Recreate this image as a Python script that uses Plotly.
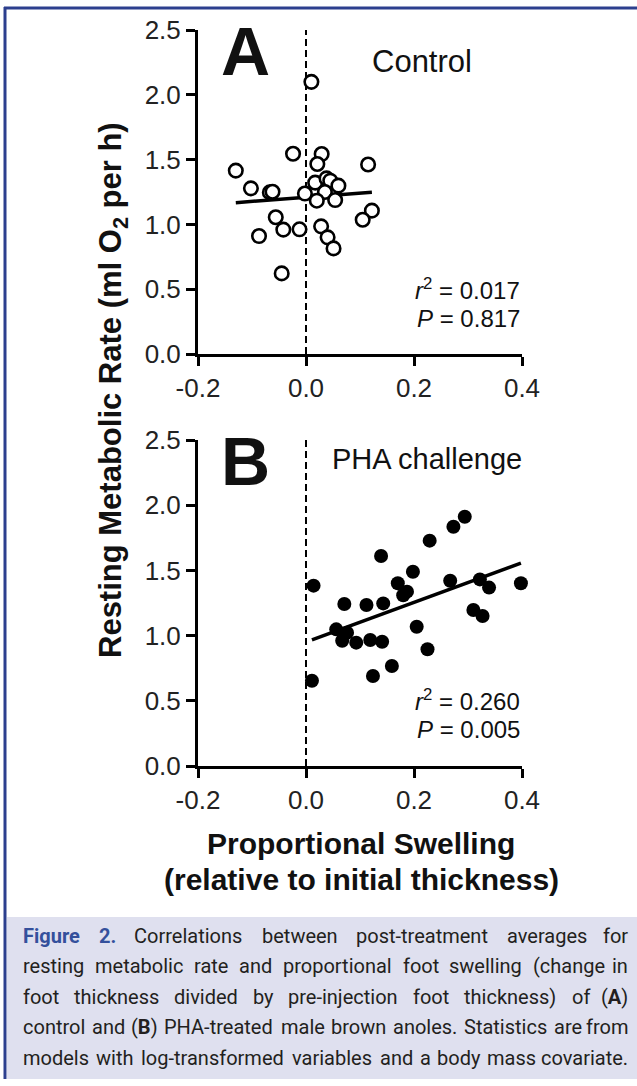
import plotly.graph_objects as go

W, H = 637, 1086

# ---------------- data ----------------
ctrl_x = [0.010, -0.024, 0.029, 0.021, -0.130, 0.115, -0.102, -0.067, -0.062, -0.002,
          0.017, 0.038, 0.045, 0.060, 0.035, 0.020, 0.054, -0.056, 0.122, 0.105,
          -0.087, -0.042, -0.012, 0.028, 0.040, 0.051, -0.045]
ctrl_y = [2.10, 1.545, 1.543, 1.466, 1.415, 1.462, 1.278, 1.247, 1.252, 1.238,
          1.322, 1.355, 1.337, 1.299, 1.250, 1.183, 1.188, 1.055, 1.106, 1.036,
          0.910, 0.960, 0.962, 0.985, 0.900, 0.815, 0.622]

pha_x = [0.014, 0.011, 0.071, 0.112, 0.143, 0.139, 0.170, 0.187, 0.198, 0.229,
         0.273, 0.294, 0.267, 0.322, 0.339, 0.398, 0.310, 0.327, 0.056, 0.076,
         0.067, 0.093, 0.119, 0.141, 0.205, 0.225, 0.159, 0.124, 0.180]
pha_y = [1.383, 0.654, 1.242, 1.235, 1.247, 1.610, 1.401, 1.337, 1.490, 1.728,
         1.835, 1.912, 1.421, 1.431, 1.368, 1.401, 1.196, 1.150, 1.048, 1.022,
         0.961, 0.946, 0.966, 0.953, 1.068, 0.895, 0.767, 0.690, 1.310]

# regression lines (intercept, slope) as printed
ctrl_fit = (1.209, 0.316)
pha_fit = (0.950, 1.52)

x_ticks = [-0.2, 0.0, 0.2, 0.4]
x_ticktext = ["-0.2", "0.0", "0.2", "0.4"]
y_ticks = [0.0, 0.5, 1.0, 1.5, 2.0, 2.5]
y_ticktext = ["0.0", "0.5", "1.0", "1.5", "2.0", "2.5"]

stats_ctrl = ("0.017", "0.817")
stats_pha = ("0.260", "0.005")

caption_lines = [
    "Figure 2. Correlations between post-treatment averages for",
    "resting metabolic rate and proportional foot swelling (change in",
    "foot thickness divided by pre-injection foot thickness) of (A)",
    "control and (B) PHA-treated male brown anoles. Statistics are from",
    "models with log-transformed variables and a body mass covariate.",
]

# ---------------- layout helpers ----------------
def px(x):
    return x / W


def py(y):
    return 1 - y / H


FONT = "Liberation Sans, Arial, sans-serif"
CAPFONT = "Roboto, Noto Sans, sans-serif"
CAP_SIZE = 20

# approximate Roboto advance widths (em)
_RW = {
    'a': .531, 'b': .549, 'c': .511, 'd': .551, 'e': .517, 'f': .340, 'g': .549, 'h': .539,
    'i': .238, 'j': .234, 'k': .496, 'l': .238, 'm': .856, 'n': .539, 'o': .557, 'p': .549,
    'q': .555, 'r': .330, 's': .503, 't': .319, 'u': .539, 'v': .473, 'w': .734, 'x': .485,
    'y': .462, 'z': .485, '.': .257, '(': .334, ')': .340, '-': .270, 'A': .652, 'B': .622,
    'C': .651, 'F': .553, 'P': .631, 'H': .713, 'S': .593, '2': .561,
}


def wwidth(word, bold=False):
    w = sum(_RW.get(c, .55) for c in word) * CAP_SIZE * 1.04
    return w * (1.04 if bold else 1.0)


fig = go.Figure()

panels = [
    ("x", "y", ctrl_x, ctrl_y, ctrl_fit, False),
    ("x2", "y2", pha_x, pha_y, pha_fit, True),
]
for xa, ya, xs, ys, fit, filled in panels:
    fig.add_trace(go.Scatter(x=[0, 0], y=[0, 2.5], mode="lines", xaxis=xa, yaxis=ya,
                             line=dict(color="black", width=2, dash="7px,4px"),
                             hoverinfo="skip", showlegend=False))
    x0, x1 = min(xs), max(xs)
    a, b = fit
    fig.add_trace(go.Scatter(x=[x0, x1], y=[a + b * x0, a + b * x1], mode="lines",
                             xaxis=xa, yaxis=ya, line=dict(color="black", width=3.5),
                             showlegend=False))
    fig.add_trace(go.Scatter(
        x=xs, y=ys, mode="markers", xaxis=xa, yaxis=ya, cliponaxis=False,
        marker=dict(symbol="circle", size=14 if filled else 13.5,
                    color="black" if filled else "white",
                    line=dict(color="black", width=0 if filled else 2.6)),
        showlegend=False))

xdom = [px(198), px(522)]
axis_common = dict(showline=True, linewidth=3, linecolor="black", ticks="outside",
                   ticklen=9, tickwidth=3, tickcolor="black", showgrid=False,
                   zeroline=False, automargin=False,
                   tickfont=dict(family=FONT, size=26, color="#222"))

fig.update_layout(
    width=W, height=H, margin=dict(l=0, r=0, t=0, b=0, pad=0, autoexpand=False),
    paper_bgcolor="white", plot_bgcolor="rgba(0,0,0,0)",
    xaxis=dict(domain=xdom, range=[-0.2, 0.4], tickvals=x_ticks, ticktext=x_ticktext,
               anchor="y", **axis_common),
    yaxis=dict(domain=[py(354), py(30)], range=[0, 2.5], tickvals=y_ticks,
               ticktext=y_ticktext, anchor="x", **axis_common),
    xaxis2=dict(domain=xdom, range=[-0.2, 0.4], tickvals=x_ticks, ticktext=x_ticktext,
                anchor="y2", **axis_common),
    yaxis2=dict(domain=[py(766), py(440)], range=[0, 2.5], tickvals=y_ticks,
                ticktext=y_ticktext, anchor="x2", **axis_common),
)

shapes = [
    dict(type="rect", xref="paper", yref="paper", x0=px(7), x1=px(637), y0=py(1079), y1=py(917),
         fillcolor="#dfe0ef", line=dict(width=0), layer="below"),
    dict(type="line", xref="paper", yref="paper", x0=px(4), x1=px(637), y0=py(8), y1=py(8),
         line=dict(color="#2c3f8e", width=3)),
    dict(type="line", xref="paper", yref="paper", x0=px(5), x1=px(5), y0=py(7), y1=py(1079),
         line=dict(color="#2c3f8e", width=3)),
]
fig.update_layout(shapes=shapes)

ann = []


def add(text, x, y, size, xanchor="center", bold=False, family=FONT, color="#111",
        yanchor="middle", angle=0):
    ann.append(dict(text=(f"<b>{text}</b>" if bold else text), x=px(x), y=py(y),
                    xref="paper", yref="paper", xanchor=xanchor, yanchor=yanchor,
                    showarrow=False, textangle=angle,
                    font=dict(family=family, size=size, color=color)))


add("A", 246, 51, 68, bold=True)
add("Control", 370, 62, 31, xanchor="left")
add("B", 246, 461, 68, bold=True)
add("PHA challenge", 330, 459, 29, xanchor="left")
add(f"<i>r</i><sup>2</sup> = {stats_ctrl[0]}", 522, 289, 24, xanchor="right")
add(f"<i>P</i> = {stats_ctrl[1]}", 522, 318, 24, xanchor="right")
add(f"<i>r</i><sup>2</sup> = {stats_pha[0]}", 522, 700, 24, xanchor="right")
add(f"<i>P</i> = {stats_pha[1]}", 522, 729, 24, xanchor="right")

add("Proportional Swelling", 361, 843, 30, bold=True)
add("(relative to initial thickness)", 361, 879, 30, bold=True)
add("Resting Metabolic Rate (ml O<sub>2</sub> per h)", 113, 390, 31, bold=True, angle=-90)

# justified caption, word by word
cap_y = [936, 966, 997, 1027, 1058]
LEFT, RIGHT = 21, 630
for li, line in enumerate(caption_lines):
    words = line.split(" ")
    bolds = [(li == 0 and wi < 2) for wi in range(len(words))]
    widths = [wwidth(w, b) for w, b in zip(words, bolds)]
    gap = (RIGHT - LEFT - sum(widths)) / (len(words) - 1)
    xcur = LEFT
    for wi, (w, b, wd) in enumerate(zip(words, bolds, widths)):
        txt = w
        if w == "(A)":
            txt = "(<b>A</b>)"
        elif w == "(B)":
            txt = "(<b>B</b>)"
        color = "#34509c" if b else "#231f20"
        if wi == len(words) - 1:
            add(txt, RIGHT, cap_y[li], CAP_SIZE, xanchor="right", bold=b,
                family=CAPFONT, color=color)
        else:
            add(txt, xcur, cap_y[li], CAP_SIZE, xanchor="left", bold=b,
                family=CAPFONT, color=color)
        xcur += wd + gap

fig.update_layout(annotations=ann)
fig.write_html(
    "out.html",
    config={"displayModeBar": False},
    post_script="document.body.style.margin='0';document.body.style.padding='0';"
                "document.body.style.overflow='hidden';",
)
